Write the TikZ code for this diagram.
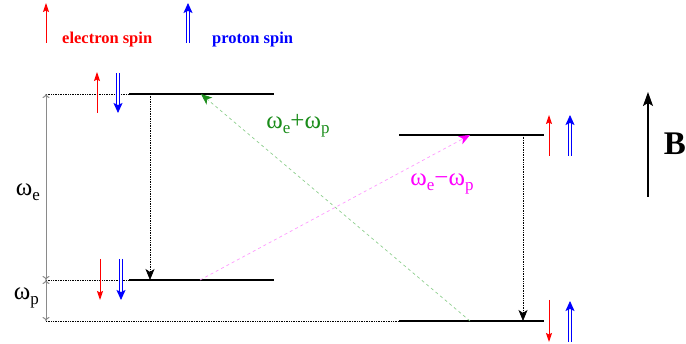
\documentclass[tikz,border=0pt]{standalone}
\usepackage{fontspec}
\setmainfont{Liberation Serif}
\usepackage{tikz}
\usetikzlibrary{arrows.meta,calc}
\definecolor{spRed}{HTML}{FF0000}
\definecolor{spBlue}{HTML}{0000FF}
\definecolor{spGreen}{HTML}{1A8C1A}
\definecolor{spGreenLight}{HTML}{8FCF8F}
\definecolor{spMag}{HTML}{FF00FF}
\definecolor{spMagLight}{HTML}{FF99FF}
\definecolor{spGray}{HTML}{8A8A8A}
\newcommand{\wsub}[1]{ω\raisebox{-0.45ex}{\fontsize{17}{17}\selectfont #1}}

\begin{document}
\begin{tikzpicture}[
  x=1pt,y=-1pt,
  level/.style={line width=1.3pt},
  guide/.style={densely dotted,line width=0.7pt},
  drop/.style={densely dotted,line width=0.7pt,-{Stealth[length=11pt,width=9pt,inset=3pt]}},
  espin/.style={spRed,line width=1pt,-{Stealth[length=9pt,width=6pt,inset=1.5pt]}},
  pspin/.style={spBlue,line width=0.9pt,double distance=2.6pt,-{Stealth[length=10pt,width=9pt,inset=2pt]}},
  gap/.style={spGray,line width=1pt,{To[length=4pt,width=7pt]}-{To[length=4pt,width=7pt]}},
  label/.style={font=\fontsize{25}{25}\selectfont,inner sep=0pt},
  key/.style={anchor=base west,inner sep=0pt,font=\fontsize{16.5}{16.5}\selectfont\bfseries}
]
  \useasboundingbox (0,0) rectangle (686,344);
  \clip (0,0) rectangle (686,344);

  \coordinate (ul0) at (46,94);   \coordinate (ul1) at (129,94);  \coordinate (ul2) at (274,94);
  \coordinate (ll0) at (46,280);  \coordinate (ll1) at (129,280); \coordinate (ll2) at (274,280);
  \coordinate (ur1) at (399,135); \coordinate (ur2) at (544,135);
  \coordinate (lr0) at (46,321);  \coordinate (lr1) at (399,321); \coordinate (lr2) at (544,321);

  \draw[espin] (46,43) -- (46,3);
  \node[key,text=spRed] (ke) at (62,44) {electron spin};
  \draw[pspin] (188,43) -- (188,3);
  \node[key,text=spBlue] (kp) at (212,44) {proton spin};

  \draw[guide] (ul0) -- (ul1);
  \draw[guide] (ll0) -- (ll1);
  \draw[guide] (lr0) -- (lr1);
  \draw[level] (ul1) -- (ul2);
  \draw[level] (ll1) -- (ll2);
  \draw[level] (ur1) -- (ur2);
  \draw[level] (lr1) -- (lr2);

  \draw[gap] (ul0) -- (ll0);
  \draw[gap] (ll0) -- (lr0);
  \node[label,anchor=east] (we) at (40,192) {\wsub{e}};
  \node[label,anchor=east] (wp) at (39,298) {\wsub{p}};

  \draw[espin] (97,113) -- (97,72);
  \draw[pspin] (118,73) -- (118,113);
  \draw[espin] (100,259) -- (100,300);
  \draw[pspin] (121,259) -- (121,300);
  \draw[espin] (549,156) -- (549,115);
  \draw[pspin] (570,156) -- (570,115);
  \draw[espin] (549,300) -- (549,342);
  \draw[pspin] (570,342) -- (570,301);

  \coordinate (a1) at (150,94);  \coordinate (b1) at (150,280);
  \coordinate (a2) at (523,135); \coordinate (b2) at (523,321);
  \draw[drop] (a1) -- (b1);
  \draw[drop] (a2) -- (b2);

  \coordinate (g0) at (470,321); \coordinate (g1) at (201,94);
  \coordinate (m0) at (200,280); \coordinate (m1) at (470,135);
  \draw[spGreenLight,dashed,line width=0.7pt,-{Stealth[length=11pt,width=9pt,inset=3pt,color=spGreen]}] (g0) -- (g1);
  \draw[spMagLight,dashed,line width=0.7pt,-{Stealth[length=11pt,width=9pt,inset=3pt,color=spMag]}] (m0) -- (m1);
  \node[label,text=spGreen] (wsum) at (298,126) {\wsub{e}+\wsub{p}};
  \node[label,text=spMag] (wdif) at (442,184) {\wsub{e}−\wsub{p}};

  \coordinate (f0) at (648,197); \coordinate (f1) at (648,92);
  \draw[line width=1.3pt,-{Stealth[length=14pt,width=10pt,inset=3pt]}] (f0) -- (f1);
  \node[anchor=base east,inner sep=0pt,font=\fontsize{33}{33}\selectfont\bfseries] (fb) at (686,155) {B};
\end{tikzpicture}
\end{document}
